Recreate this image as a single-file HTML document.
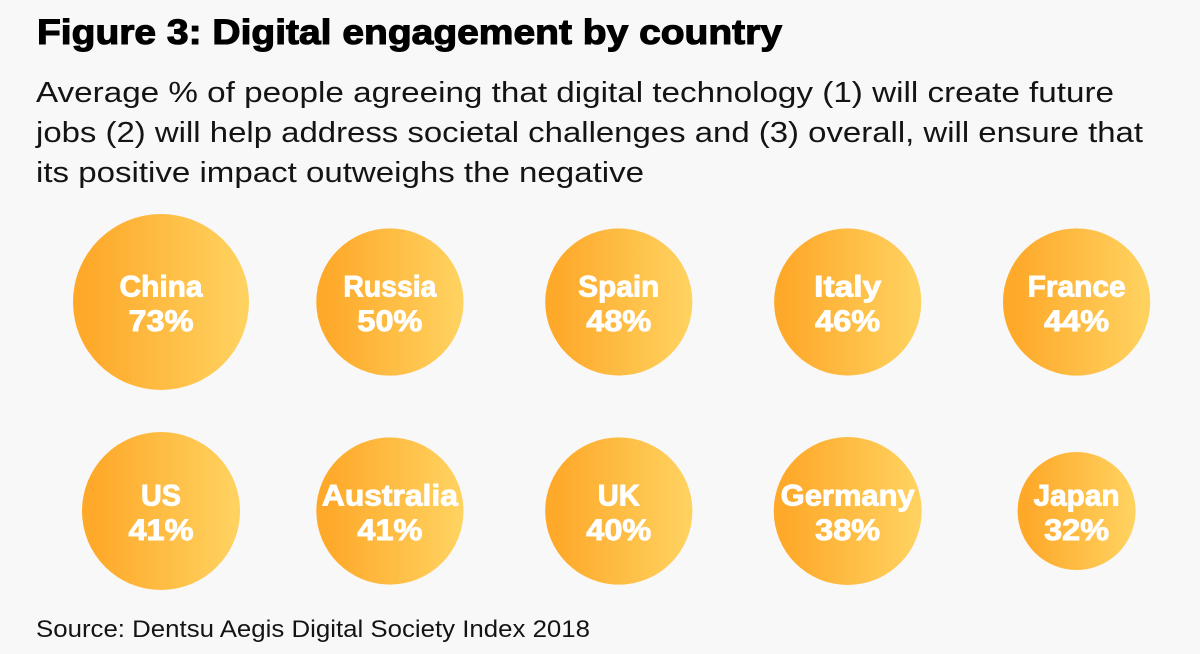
<!DOCTYPE html>
<html lang="en">
<head>
<meta charset="utf-8">
<title>Figure 3: Digital engagement by country</title>
<style>
  html, body { margin: 0; padding: 0; background: #f8f8f8; }
  body { width: 1200px; height: 654px; overflow: hidden; }
  svg { display: block; }
  text { font-family: "Liberation Sans", sans-serif; }
  .title { font-size: 35px; font-weight: 700; fill: #000; stroke: #000; stroke-width: 1.1px; }
  .sub { font-size: 29px; fill: #141414; }
  .source { font-size: 24px; fill: #141414; }
  .bubble-text { font-size: 30px; font-weight: 700; fill: #fff; stroke: #fff; stroke-width: .9px; text-anchor: middle; }
</style>
</head>
<body>
<svg id="chart" width="1200" height="654" viewBox="0 0 1200 654" xmlns="http://www.w3.org/2000/svg">
  <defs>
    <linearGradient id="bubble-fill" x1="0" y1="0" x2="1" y2="0">
      <stop offset="0.08" stop-color="#fea92a"/>
      <stop offset="1" stop-color="#ffd361"/>
    </linearGradient>
  </defs>
  <rect width="1200" height="654" fill="#f8f8f8"/>
  <text class="title" x="37" y="44" textLength="745" lengthAdjust="spacingAndGlyphs">Figure 3: Digital engagement by country</text>
  <g>
    <text class="sub" x="36" y="102" textLength="1078" lengthAdjust="spacingAndGlyphs">Average % of people agreeing that digital technology (1) will create future</text>
    <text class="sub" x="36" y="142" textLength="1107" lengthAdjust="spacingAndGlyphs">jobs (2) will help address societal challenges and (3) overall, will ensure that</text>
    <text class="sub" x="36" y="182" textLength="608" lengthAdjust="spacingAndGlyphs">its positive impact outweighs the negative</text>
  </g>
  <g id="bubbles"></g>
  <text class="source" x="36" y="637" textLength="554" lengthAdjust="spacingAndGlyphs">Source: Dentsu Aegis Digital Society Index 2018</text>
</svg>
<script>
const countries = ["China", "Russia", "Spain", "Italy", "France", "US", "Australia", "UK", "Germany", "Japan"];
const engagement = [73, 50, 48, 46, 44, 41, 41, 40, 38, 32];
// Relative bubble weight (the original sizes are not strictly proportional).
const bubbleWeight = [10.3, 10.41, 10.62, 10.85, 11.1, 12.34, 11.49, 11.64, 12.0, 10.43];

const columnsPerRow = 5;

function xScale(col) { return 161 + col * 228.9; }
function yScale(row) { return 302 + row * 209; }
function rScale(value, weight) { return weight * Math.sqrt(value); }

// Text fitting only: the rendered width of each country name.
const nameFit = { China: 83, Russia: 93, Spain: 81, Italy: 67, France: 98, US: 40, Australia: 136, UK: 42, Germany: 134, Japan: 86 };
const valueFit = 65;

const svgNS = "http://www.w3.org/2000/svg";
const group = document.getElementById("bubbles");

countries.forEach(function (name, i) {
  const col = i % columnsPerRow;
  const row = Math.floor(i / columnsPerRow);
  const cx = xScale(col);
  const cy = yScale(row);
  const slug = name.toLowerCase();

  const g = document.createElementNS(svgNS, "g");
  
  

  const circle = document.createElementNS(svgNS, "circle");
  circle.setAttribute("cx", cx);
  circle.setAttribute("cy", cy);
  circle.setAttribute("r", rScale(engagement[i], bubbleWeight[i]));
  circle.setAttribute("fill", "url(#bubble-fill)");
  
  
  g.appendChild(circle);

  const label = document.createElementNS(svgNS, "text");
  label.setAttribute("class", "bubble-text");
  label.setAttribute("x", cx);
  label.setAttribute("y", cy - 5.5);
  label.setAttribute("textLength", nameFit[name]);
  label.setAttribute("lengthAdjust", "spacingAndGlyphs");
  label.textContent = name;
  
  
  g.appendChild(label);

  const value = document.createElementNS(svgNS, "text");
  value.setAttribute("class", "bubble-text");
  value.setAttribute("x", cx);
  value.setAttribute("y", cy + 29);
  value.setAttribute("textLength", valueFit);
  value.setAttribute("lengthAdjust", "spacingAndGlyphs");
  value.textContent = engagement[i] + "%";
  
  
  g.appendChild(value);

  group.appendChild(g);
});
</script>
</body>
</html>
